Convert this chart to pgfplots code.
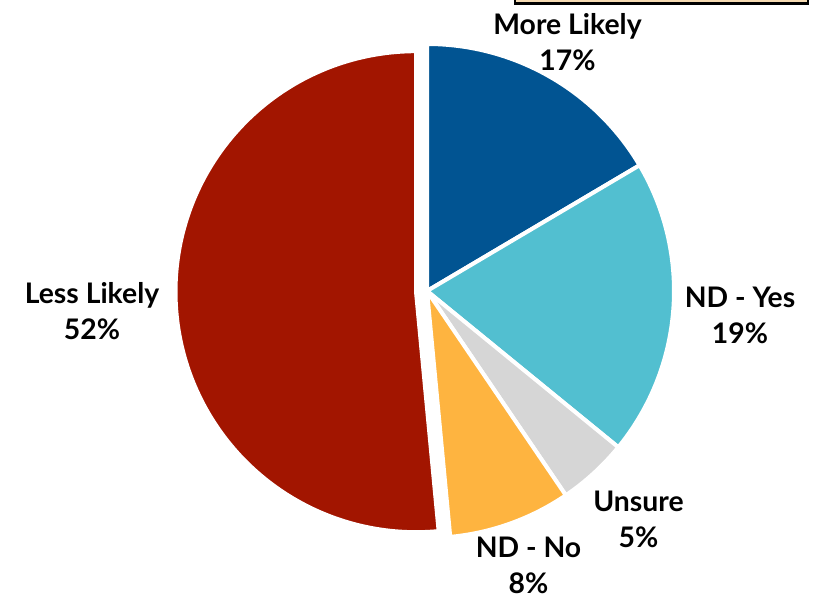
\documentclass[border=0pt]{standalone}
\usepackage{pgfplots}
\pgfplotsset{compat=1.18}
\usepackage{pgfplotstable}
\usepackage{fontspec}
\setmainfont{Lato}
\definecolor{cMore}{RGB}{1,84,146}
\definecolor{cYes}{RGB}{82,191,208}
\definecolor{cUns}{RGB}{214,214,214}
\definecolor{cNo}{RGB}{254,180,64}
\definecolor{cLess}{RGB}{162,21,0}
\definecolor{cBox}{RGB}{245,218,178}
\pgfplotstableread{
label value
More 16.5
Yes 19.4
Unsure 4.6
No 8.0
Less 51.5
}\piedata
\begin{document}
\begin{tikzpicture}
\pgfplotstablegetelem{0}{value}\of\piedata \let\vA\pgfplotsretval
\pgfplotstablegetelem{1}{value}\of\piedata \let\vB\pgfplotsretval
\pgfplotstablegetelem{2}{value}\of\piedata \let\vC\pgfplotsretval
\pgfplotstablegetelem{3}{value}\of\piedata \let\vD\pgfplotsretval
\pgfmathsetmacro\aA{90}
\pgfmathsetmacro\aB{\aA-3.6*\vA}
\pgfmathsetmacro\aC{\aB-3.6*\vB}
\pgfmathsetmacro\aD{\aC-3.6*\vC}
\pgfmathsetmacro\aE{\aD-3.6*\vD}
\useasboundingbox (0,0) rectangle (488.4pt,358.8pt);
\begin{axis}[
  at={(0,0)}, anchor=south west,
  scale only axis, width=488.4pt, height=358.8pt,
  xmin=0, xmax=814, ymin=0, ymax=598,
  hide axis, clip=false,
]
\addplot[fill=cMore, draw=white, line width=2.4pt, domain=\aB:\aA, samples=80, variable=\t]
  ({427+247*cos(\t)},{307+247*sin(\t)}) -- (axis cs:427,307) -- cycle;
\addplot[fill=cYes, draw=white, line width=2.4pt, domain=\aC:\aB, samples=80, variable=\t]
  ({427+247*cos(\t)},{307+247*sin(\t)}) -- (axis cs:427,307) -- cycle;
\addplot[fill=cUns, draw=white, line width=2.4pt, domain=\aD:\aC, samples=40, variable=\t]
  ({427+247*cos(\t)},{307+247*sin(\t)}) -- (axis cs:427,307) -- cycle;
\addplot[fill=cNo, draw=white, line width=2.4pt, domain=\aE:\aD, samples=40, variable=\t]
  ({427+247*cos(\t)},{307+247*sin(\t)}) -- (axis cs:427,307) -- cycle;
\addplot[fill=cLess, draw=white, line width=2.4pt, domain=-270:\aE, samples=160, variable=\t]
  ({416+240.5*cos(\t)},{306.3+240.5*sin(\t)}) -- (axis cs:416,306.3) -- cycle;
% clipped box at top
\fill[cBox] (axis cs:515,594) rectangle (axis cs:808,598);
\draw[black, line width=1.4pt] (axis cs:515,599) -- (axis cs:515,594.5) -- (axis cs:808,594.5) -- (axis cs:808,599);
\begin{scope}[every node/.style={align=center, font=\fontsize{17}{21.5}\selectfont\bfseries}]
\node at (axis cs:567.5,556) {More Likely\\17\%};
\node at (axis cs:92,287) {Less Likely\\52\%};
\node at (axis cs:740,282.5) {ND - Yes\\19\%};
\node at (axis cs:638.5,78.5) {Unsure\\5\%};
\node at (axis cs:528.5,32.5) {ND - No\\8\%};
\end{scope}
\end{axis}
\end{tikzpicture}
\end{document}
